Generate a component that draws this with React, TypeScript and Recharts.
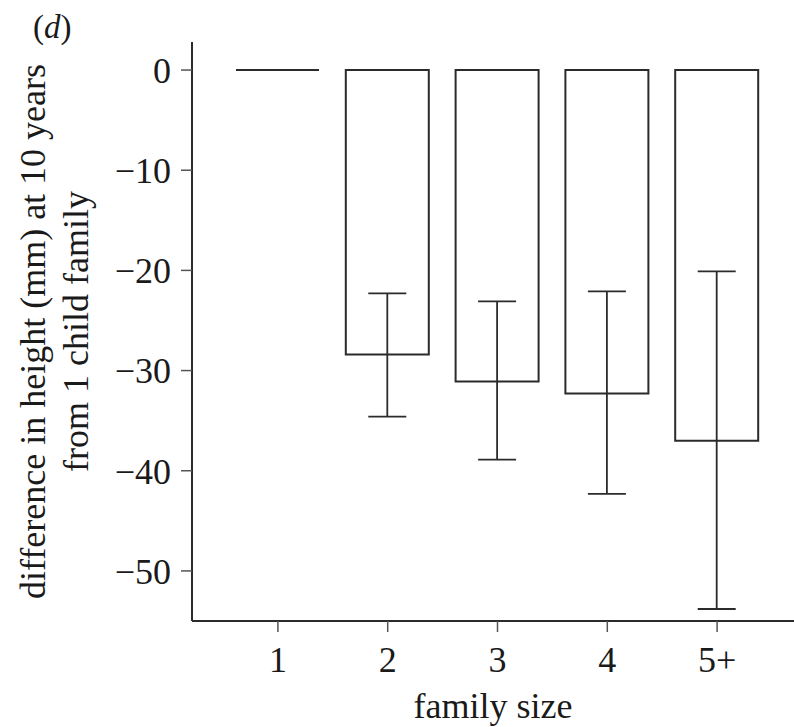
import { BarChart, Bar, XAxis, YAxis, ErrorBar, Label } from 'recharts';

const familySizes = ['1', '2', '3', '4', '5+'];
const meanDiff = [0, -28.4, -31.1, -32.3, -37.0];
const ciLower = [null, -34.6, -38.9, -42.3, -53.8];
const ciUpper = [null, -22.3, -23.1, -22.1, -20.1];
const yTicks = [0, -10, -20, -30, -40, -50];

const chartData = familySizes.map((size, i) => {
  const lo = ciLower[i];
  const hi = ciUpper[i];
  return {
    size,
    diff: meanDiff[i],
    err: lo === null || hi === null ? null : [meanDiff[i] - lo, hi - meanDiff[i]],
  };
});

const FONT = '"Liberation Serif", "Times New Roman", serif';
const INK = '#2b2b2b';

// plain open box, also drawn for the zero-height bar
function OpenBar(props: any) {
  const { x, y, width, height } = props;
  const top = Math.min(y, y + height);
  const h = Math.abs(height);
  return (
    <path
      d={`M${x},${top}h${width}v${h}h${-width}Z`}
      fill="#fff"
      stroke={INK}
      strokeWidth={2}
    />
  );
}

function YTitle(props: any) {
  const vb = props.viewBox || { x: 0, y: 42, width: 192, height: 579 };
  const cy = vb.y + vb.height / 2;
  return (
    <g fontFamily={FONT} fontSize={36} fill="#1a1a1a">
      <text x={45} y={cy} textAnchor="middle" transform={`rotate(-90, 45, ${cy})`}>
        difference in height (mm) at 10 years
      </text>
      <text x={88} y={cy} textAnchor="middle" transform={`rotate(-90, 88, ${cy})`}>
        from 1 child family
      </text>
    </g>
  );
}

export default function App() {
  return (
    <div
      style={{
        position: 'absolute',
        left: 0,
        top: 0,
        width: 794,
        height: 727,
        background: '#fff',
      }}
    >
      <div
        style={{
          position: 'absolute',
          left: 33,
          top: 9,
          fontFamily: FONT,
          fontSize: 33,
          color: '#1a1a1a',
        }}
      >
        (<i>d</i>)
      </div>
      <BarChart
        width={794}
        height={727}
        data={chartData}
        margin={{ top: 42, right: 0, bottom: 0, left: 0 }}
        barSize={83}
      >
        <XAxis
          dataKey="size"
          height={106}
          padding={{ left: 31, right: 22 }}
          axisLine={{ stroke: INK, strokeWidth: 2 }}
          tickLine={{ stroke: '#555', strokeWidth: 1.5 }}
          tickSize={11}
          tickMargin={14}
          tick={{ fill: '#1a1a1a', fontFamily: FONT, fontSize: 36 }}
        >
          <Label
            value="family size"
            position="insideBottom"
            offset={9}
            style={{ fill: '#1a1a1a', fontFamily: FONT, fontSize: 36 }}
          />
        </XAxis>
        <YAxis
          width={192}
          domain={[-55, 2.8]}
          ticks={yTicks}
          allowDataOverflow
          axisLine={{ stroke: INK, strokeWidth: 2 }}
          tickLine={{ stroke: '#555', strokeWidth: 1.5 }}
          tickSize={11}
          tickMargin={10}
          tick={{ fill: '#1a1a1a', fontFamily: FONT, fontSize: 36 }}
          tickFormatter={(v: number) => (v < 0 ? `\u2212${Math.abs(v)}` : `${v}`)}
        >
          <Label content={<YTitle />} />
        </YAxis>
        <Bar dataKey="diff" shape={<OpenBar />} isAnimationActive={false}>
          <ErrorBar
            dataKey="err"
            width={19}
            stroke={INK}
            strokeWidth={1.8}
            direction="y"
            isAnimationActive={false}
          />
        </Bar>
      </BarChart>
    </div>
  );
}
